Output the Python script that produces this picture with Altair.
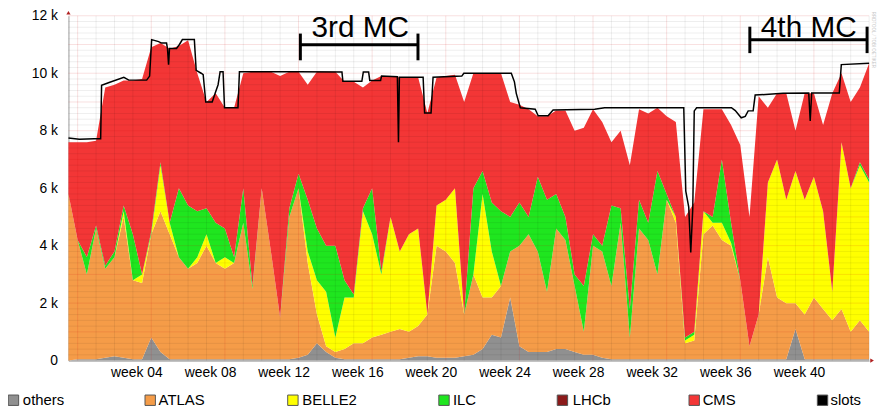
import altair as alt
import pandas as pd

# ---- time axis of the stacked series (weeks) ----
weeks = [i / 2 - 0.5 for i in range(88)]

# ---- running job slots per VO ----
others = [0, 50, 50, 50, 100, 150, 100, 50, 50, 800,
          300, 50, 50, 50, 50, 50, 50, 50, 50, 50,
          50, 50, 50, 50, 50, 100, 200, 600, 300, 100,
          50, 50, 50, 50, 50, 50, 50, 100, 150, 150,
          100, 100, 100, 150, 200, 400, 900, 800, 2200, 500,
          300, 300, 300, 400, 400, 300, 200, 200, 100, 50,
          50, 50, 50, 50, 50, 50, 50, 50, 50, 50,
          50, 50, 50, 50, 50, 50, 50, 50, 50, 1100,
          50, 50, 50, 50, 50, 50, 50, 50]
atlas = [5800, 4150, 2950, 4550, 3100, 3450, 4900, 2750, 2650, 3600,
         4900, 4350, 3550, 3150, 3350, 3950, 3350, 3150, 3350, 4750,
         2450, 5950, 3750, 1450, 4950, 5900, 3200, 1000, 200, 200,
         350, 550, 550, 750, 850, 950, 1050, 900, 1050, 1450,
         3900, 3700, 3300, 1450, 2800, 1800, 1300, 1800, 1600, 3500,
         4100, 3500, 2100, 4200, 3800, 2300, 800, 3800, 3700, 2550,
         4750, 750, 4550, 4150, 2950, 5550, 4750, 550, 650, 4350,
         4650, 4150, 3950, 2750, 450, 1550, 3550, 2150, 1950, 900,
         1550, 2150, 1750, 1350, 1750, 950, 1350, 950]
belle2 = [0, 0, 0, 0, 0, 0, 200, 0, 300, 0,
          1600, 400, 0, 0, 200, 400, 0, 400, 0, 0,
          0, 0, 0, 0, 0, 0, 400, 1200, 1900, 500,
          1800, 1600, 4600, 3600, 2100, 4000, 2700, 3400, 3400, 0,
          1400, 1800, 2600, 0, 0, 3600, 1600, 0, 0, 0,
          0, 0, 0, 0, 0, 0, 0, 0, 0, 0,
          0, 0, 0, 0, 0, 0, 200, 100, 200, 800,
          100, 600, 100, 0, 0, 0, 2600, 4800, 3600, 4600,
          4000, 4200, 3400, 1000, 5800, 5000, 5400, 5200]
ilc = [0, 0, 600, 100, 100, 200, 200, 1600, 0, 100,
       100, 0, 2400, 2200, 1600, 900, 1400, 1000, 200, 1200,
       100, 0, 0, 0, 300, 500, 1800, 1800, 1600, 3200,
       600, 100, 100, 1600, 100, 0, 0, 0, 0, 0,
       0, 0, 0, 0, 3000, 800, 1700, 2600, 1200, 1500,
       600, 2600, 3200, 1200, 800, 400, 1600, 400, 200, 2800,
       500, 1000, 1000, 600, 3600, 200, 0, 100, 100, 0,
       200, 2200, 700, 0, 0, 0, 0, 0, 0, 0,
       0, 0, 0, 0, 0, 0, 100, 100]
lhcb = [0] * 88
cms = [1800, 3400, 4000, 2950, 6200, 5800, 4350, 5350, 6800, 6400,
       4150, 6050, 4950, 5750, 4800, 3700, 4500, 4200, 5200, 4000,
       7450, 4050, 6250, 8400, 4750, 3550, 4000, 5450, 6050, 6050,
       6900, 7400, 4200, 3750, 6800, 4900, 6050, 5450, 5250, 7020,
       4450, 4300, 3950, 7400, 4000, 3400, 4500, 4800, 4000, 3400,
       3750, 2100, 2900, 2900, 3700, 5000, 5500, 4350, 4300, 2200,
       2700, 5000, 3150, 3800, 2200, 2700, 3300, 4200, 4500, 3550,
       3750, 1750, 3400, 4700, 4500, 7600, 2600, 2300, 3700, 1400,
       3700, 2900, 3000, 6900, 2400, 3000, 2600, 4050]

# ---- total slots (black line) ----
slots_week = [-0.5, 0.09, 0.90, 1.25, 1.30, 1.71, 2.51, 2.78, 3.75, 3.91,
              4.02, 4.40, 4.56, 4.83, 4.88, 4.94, 4.99, 5.37, 5.53, 5.69,
              6.34, 6.44, 6.71, 6.82, 6.96, 7.31, 7.47, 7.63, 7.74, 7.90,
              7.98, 8.71, 8.79, 11.94, 14.36, 14.41, 15.44, 15.52, 15.81, 15.87,
              16.46, 16.51, 17.37, 17.43, 17.48, 18.77, 18.85, 19.20, 19.31, 20.87,
              20.98, 23.56, 23.73, 23.83, 24.05, 24.86, 25.02, 25.56, 25.83, 28.09,
              28.63, 32.93, 33.04, 33.20, 33.31, 33.42, 33.50, 33.63, 35.52, 35.73,
              36.05, 36.27, 36.43, 36.70, 36.81, 38.32, 39.72, 39.80, 39.88, 41.38,
              41.49, 43.0]
slots_value = [7750, 7700, 7720, 7720, 9580, 9680, 9860, 9760, 9760, 9900,
               11170, 11100, 11050, 11050, 10860, 10300, 10860, 10860, 11000, 11170,
               11170, 10100, 10000, 9950, 9000, 9000, 9300, 9600, 10050, 10050,
               8800, 8800, 10050, 10050, 10040, 9720, 9720, 10040, 10040, 9750,
               9750, 9900, 9880, 7600, 9860, 9860, 8620, 8620, 9860, 9900,
               10000, 10000, 9700, 9300, 8800, 8750, 8520, 8520, 8720, 8750,
               8800, 8800, 5900, 5340, 3760, 5300, 8690, 8800, 8800, 8700,
               8450, 8500, 8690, 8690, 9240, 9300, 9310, 8340, 9310, 9310,
               10300, 10350]

series_names = ["others", "ATLAS", "BELLE2", "ILC", "LHCb", "CMS"]
series_colors = ["#909090", "#f59c48", "#ffff00", "#1fe61f", "#8b1a1a", "#f33636"]
week_ticks = [4, 8, 12, 16, 20, 24, 28, 32, 36, 40]

# annotations (campaign brackets)
ann_label = ["3rd MC", "4th MC"]
ann_start = [12.10, 36.52]
ann_end = [18.49, 42.89]
ann_bar = [10990, 11165]
ann_low = [10450, 10700]
ann_high = [11380, 11620]
ann_text_x = [15.35, 39.72]
ann_text_y = [11276, 11250]

# legend layout (pixels relative to the plot origin)
legend_names = ["others", "ATLAS", "BELLE2", "ILC", "LHCb", "CMS", "slots"]
legend_colors = ["#909090", "#f59c48", "#ffff00", "#1fe61f", "#8b1a1a", "#f33636", "#000000"]
legend_square_x = [-55.5, 82.5, 226.5, 379, 498.5, 631.5, 761]
legend_text_x = [-46, 91, 236, 388, 509, 640, 769]

FONT = "Liberation Sans"

rows = []
for k, (name, vals) in enumerate(zip(series_names, [others, atlas, belle2, ilc, lhcb, cms])):
    for w, v in zip(weeks, vals):
        rows.append({"week": w, "value": v, "series": name, "ord": k})
df = pd.DataFrame(rows)
slots_df = pd.DataFrame({"week": slots_week, "value": slots_value})

x_scale = alt.Scale(domain=[-0.5, 43], nice=False, zero=False)
y_scale = alt.Scale(domain=[0, 12000], nice=False, zero=False)

x_axis = alt.Axis(values=week_ticks, title=None, grid=False, ticks=False,
                  labelExpr="'week ' + (datum.value < 10 ? '0' : '') + datum.value",
                  labelOffset=-15, labelPadding=5, labelFont=FONT, labelFontSize=14,
                  labelColor="#000", domainColor="#9a9a9a", labelFlush=False,
                  labelOverlap=False)
y_axis = alt.Axis(values=list(range(0, 12001, 1000)), title=None, grid=False, ticks=False,
                  labelExpr="datum.value == 0 ? '0\u00a0\u00a0' : (datum.value / 1000) + ' k'",
                  labelPadding=11, labelFont=FONT, labelFontSize=14, labelColor="#000",
                  domainColor="#9a9a9a", labelFlush=False, labelOverlap=False)

areas = alt.Chart(df).mark_area(interpolate="linear").encode(
    x=alt.X("week:Q", scale=x_scale, axis=x_axis),
    y=alt.Y("value:Q", stack="zero", scale=y_scale, axis=y_axis),
    color=alt.Color("series:N", scale=alt.Scale(domain=series_names, range=series_colors), legend=None),
    order=alt.Order("ord:Q", sort="ascending"),
)

# background grid (drawn faintly over the data, as in the original)
hgrid_df = pd.DataFrame({"value": list(range(200, 12001, 200))})
hgrid_df["major"] = hgrid_df["value"] % 1000 == 0
vgrid_df = pd.DataFrame({"week": list(range(0, 44))})
vgrid_df["major"] = vgrid_df["week"] % 4 == 0

hgrid_minor = alt.Chart(hgrid_df[~hgrid_df["major"]]).mark_rule(color="#000", opacity=0.07, strokeWidth=1).encode(
    y=alt.Y("value:Q", scale=y_scale))
hgrid_major = alt.Chart(hgrid_df[hgrid_df["major"]]).mark_rule(color="#d01010", opacity=0.13, strokeWidth=1).encode(
    y=alt.Y("value:Q", scale=y_scale))
vgrid_minor = alt.Chart(vgrid_df[~vgrid_df["major"]]).mark_rule(color="#000", opacity=0.07, strokeWidth=1).encode(
    x=alt.X("week:Q", scale=x_scale))
vgrid_major = alt.Chart(vgrid_df[vgrid_df["major"]]).mark_rule(color="#d01010", opacity=0.13, strokeWidth=1).encode(
    x=alt.X("week:Q", scale=x_scale))

slots_line = alt.Chart(slots_df).mark_line(color="#000", strokeWidth=1.5).encode(
    x=alt.X("week:Q", scale=x_scale),
    y=alt.Y("value:Q", scale=y_scale),
)

ann_df = pd.DataFrame({"label": ann_label, "x1": ann_start, "x2": ann_end, "yb": ann_bar,
                       "ylo": ann_low, "yhi": ann_high, "tx": ann_text_x, "ty": ann_text_y})
bar_h = alt.Chart(ann_df).mark_rule(color="#000", strokeWidth=3).encode(
    x=alt.X("x1:Q", scale=x_scale), x2="x2:Q", y=alt.Y("yb:Q", scale=y_scale))
bar_l = alt.Chart(ann_df).mark_rule(color="#000", strokeWidth=3).encode(
    x=alt.X("x1:Q", scale=x_scale), y=alt.Y("ylo:Q", scale=y_scale), y2="yhi:Q")
bar_r = alt.Chart(ann_df).mark_rule(color="#000", strokeWidth=3).encode(
    x=alt.X("x2:Q", scale=x_scale), y=alt.Y("ylo:Q", scale=y_scale), y2="yhi:Q")
ann_text = alt.Chart(ann_df).mark_text(font=FONT, fontSize=30, color="#000", align="center",
                                       baseline="alphabetic").encode(
    x=alt.X("tx:Q", scale=x_scale), y=alt.Y("ty:Q", scale=y_scale), text="label:N")

# axis arrow heads
one = pd.DataFrame({"a": [0]})
arrow_x = alt.Chart(one).mark_point(shape="triangle-right", filled=True, size=18, color="#b02020", opacity=1).encode(
    x=alt.value(811), y=alt.value(348))
arrow_y = alt.Chart(one).mark_point(shape="triangle-up", filled=True, size=18, color="#b02020", opacity=1).encode(
    x=alt.value(0), y=alt.value(-3))

leg_df = pd.DataFrame({"name": legend_names, "color": legend_colors,
                       "sx": legend_square_x, "tx": legend_text_x})
leg_sq = alt.Chart(leg_df).mark_square(size=110, opacity=1, stroke="#555", strokeWidth=1).encode(
    x=alt.X("sx:Q", scale=None), y=alt.value(388), color=alt.Color("color:N", scale=None, legend=None))
leg_tx = alt.Chart(leg_df).mark_text(font=FONT, fontSize=15, align="left", baseline="middle", color="#000").encode(
    x=alt.X("tx:Q", scale=None), y=alt.value(388), text="name:N")

watermark = alt.Chart(one).mark_text(text="RRDTOOL / TOBI OETIKER", angle=90, fontSize=4.5, color="#c8c8c8",
                                     align="left", baseline="middle", font=FONT).encode(
    x=alt.value(812), y=alt.value(-4))

chart = alt.layer(
    areas, hgrid_minor, hgrid_major, vgrid_minor, vgrid_major, slots_line,
    bar_h, bar_l, bar_r, ann_text, arrow_x, arrow_y, leg_sq, leg_tx, watermark,
).properties(
    width=808, height=348,
    padding={"left": 61, "top": 6, "right": 12, "bottom": 46},
    autosize=alt.AutoSizeParams(type="none"),
    background="white",
).configure_view(stroke=None)

chart.save("out.html", embed_options={"renderer": "svg", "actions": False})
